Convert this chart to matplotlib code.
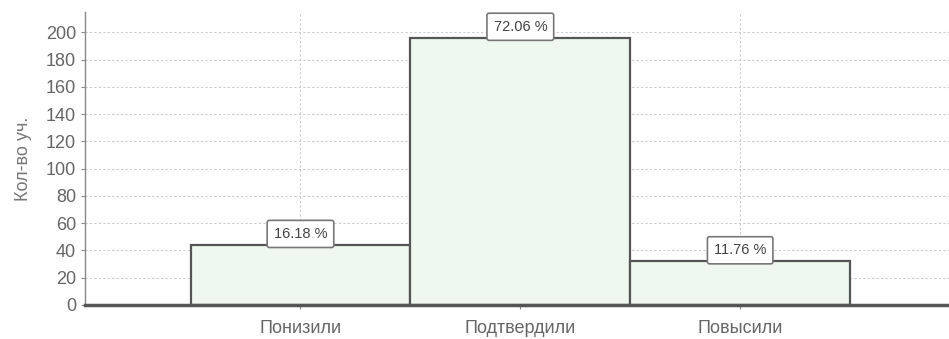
import numpy as np
import matplotlib
matplotlib.use("Agg")
import matplotlib.pyplot as plt

categories = ["Понизили", "Подтвердили", "Повысили"]
counts = [44, 196, 32]
shares = ["16.18 %", "72.06 %", "11.76 %"]
yticks = list(range(0, 201, 20))

plt.rcParams["font.family"] = ["Liberation Sans", "DejaVu Sans"]

fig = plt.figure(figsize=(9.49, 3.39), dpi=100)
ax = fig.add_axes([0.0896, 0.1003, 0.9104, 0.8643])

x = np.arange(len(categories))
ax.bar(x, counts, width=1.0, color="#eef8ee", edgecolor="#555555",
       linewidth=1.6, zorder=3)

# percentage labels in small boxes sitting on the bar tops
for xi, c, s in zip(x, counts, shares):
    ax.annotate(s, (xi, c), xytext=(0, 8), textcoords="offset points",
                ha="center", va="center", fontsize=10.5, color="#444444",
                bbox=dict(boxstyle="round,pad=0.45,rounding_size=0.15",
                          fc="white", ec="#777777", lw=1.2), zorder=5)

ax.set_xlim(-0.98, 2.95)
ax.set_ylim(0, 215)
ax.set_yticks(yticks)
ax.set_xticks(x)
ax.set_xticklabels(categories)
ax.tick_params(axis="both", colors="#888888", labelcolor="#666666",
               labelsize=13, length=3)
ax.tick_params(axis="x", pad=8)
ax.set_ylabel("Кол-во уч.", color="#777777", fontsize=13, labelpad=10)

ax.grid(True, color="#cccccc", linestyle=(0, (2, 2)), linewidth=0.8, zorder=0)
ax.set_axisbelow(True)

for side in ("top", "right"):
    ax.spines[side].set_visible(False)
ax.spines["left"].set_color("#888888")
ax.spines["left"].set_linewidth(1.0)
ax.spines["bottom"].set_color("#555555")
ax.spines["bottom"].set_linewidth(2.5)
ax.spines["bottom"].set_zorder(6)

fig.savefig("out.png", dpi=100)
